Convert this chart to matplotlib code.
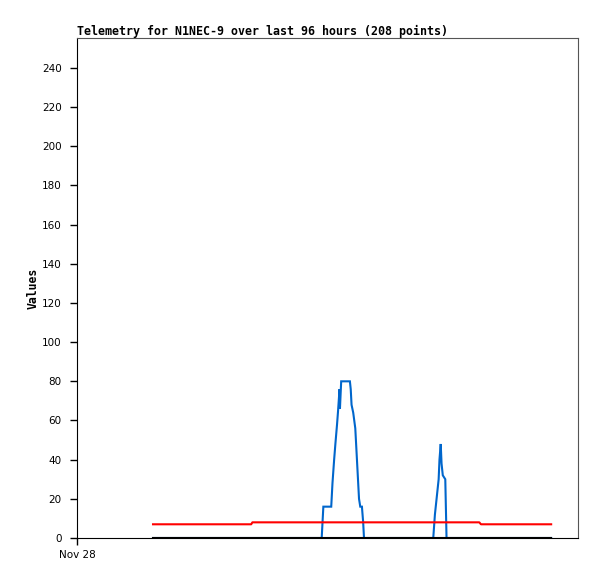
import matplotlib
matplotlib.use("Agg")
import matplotlib.pyplot as plt

# hours since Nov 28 00:00
red_t = [18.33, 42.0, 42.3, 97.0, 97.4, 114.33]
red_v = [7, 7, 8, 8, 7, 7]

black_t = [18.33, 114.33]
black_v = [0, 0]

blue_t = [18.33, 59.0, 59.4, 61.3, 61.6, 62.0, 62.3, 62.7, 62.95, 63.3, 63.4,
          63.7, 65.8, 66.0, 66.2, 66.6, 67.1, 67.3, 67.5, 67.8, 68.0, 68.3,
          68.7, 69.0, 69.2,
          85.9, 86.3, 86.8, 87.2, 87.4, 87.7, 87.9, 88.2, 88.8, 89.1, 114.33]
blue_v = [0, 0, 16, 16, 28, 40, 48, 58, 65, 76, 66,
          80, 80, 76, 68, 64, 56, 48, 40, 28, 20, 16,
          16, 8, 0,
          0, 12, 22, 30, 40, 48, 38, 32, 30, 0, 0]

y_ticks = list(range(0, 241, 20))
x_ticks = [0]
x_labels = ["Nov 28"]

fig = plt.figure(figsize=(5.97, 5.79), dpi=100)
ax = fig.add_axes([77 / 597, 41 / 579, 501 / 597, 500 / 579])

ax.plot(blue_t, blue_v, color="#0066cc", lw=1.5, solid_joinstyle="miter")
ax.plot(red_t, red_v, color="#ff0000", lw=1.5)
ax.plot(black_t, black_v, color="black", lw=1.5)

ax.set_xlim(0, 120.8)
ax.set_ylim(0, 255.3)
ax.set_yticks(y_ticks)
ax.set_xticks(x_ticks)
ax.set_xticklabels(x_labels)
ax.tick_params(direction="out", length=5, width=1, labelsize=7.5, colors="black")
ax.tick_params(axis="y", pad=6)

for s in ["top", "right"]:
    ax.spines[s].set_color("#555555")
for s in ["left", "bottom"]:
    ax.spines[s].set_color("black")

ax.set_ylabel("Values", family="DejaVu Sans Mono", fontweight="bold", fontsize=8.3, labelpad=1.5)
fig.text(77 / 597, 1 - 31 / 579, "Telemetry for N1NEC-9 over last 96 hours (208 points)",
         family="DejaVu Sans Mono", fontweight="bold", fontsize=8.35, va="center", ha="left")

fig.savefig("out.png", dpi=100)
